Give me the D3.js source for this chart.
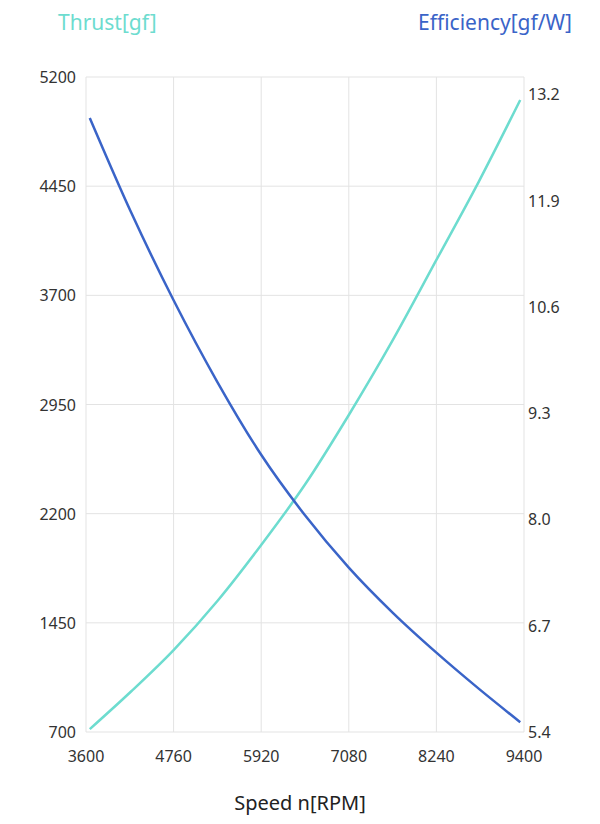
<!DOCTYPE html>
<html><head><meta charset="utf-8">
<script src="https://cdn.jsdelivr.net/npm/d3@7"></script>
<style>body{margin:0;background:#fff}text{font-family:"Noto Sans",sans-serif}</style>
</head><body><svg id="c" width="600" height="824"></svg>
<script>
const speed = [3650, 4200, 4760, 5340, 5920, 6500, 7080, 7660, 8240, 8800, 9350];
const thrust = [720, 980, 1263, 1600, 1985, 2400, 2878, 3390, 3943, 4480, 5042];
const efficiency = [12.91, 11.75, 10.68, 9.68, 8.79, 8.05, 7.41, 6.86, 6.37, 5.93, 5.52];
const xTicks = [3600, 4760, 5920, 7080, 8240, 9400];
const leftTicks = [700, 1450, 2200, 2950, 3700, 4450, 5200];
const rightTicks = [5.4, 6.7, 8.0, 9.3, 10.6, 11.9, 13.2];

const svg = d3.select('#c');
const m = {t:77, r:76, b:92, l:86};
const w = 600 - m.l - m.r, h = 824 - m.t - m.b;
const g = svg.append('g').attr('transform',`translate(${m.l},${m.t})`);

const x = d3.scaleLinear().domain([3600,9400]).range([0,w]);
const yL = d3.scaleLinear().domain([700,5200]).range([h,0]);
const yR = d3.scaleLinear().domain([5.4,5.4+1.3*655/106.3]).range([h,0]);

g.selectAll('.gx').data(xTicks).enter().append('line')
	.attr('x1',d=>x(d)).attr('x2',d=>x(d)).attr('y1',0).attr('y2',h)
	.style('stroke','#e3e3e3');
g.selectAll('.gy').data(leftTicks).enter().append('line')
	.attr('x1',0).attr('x2',w).attr('y1',d=>yL(d)).attr('y2',d=>yL(d))
	.style('stroke','#e3e3e3');

g.selectAll('.tx').data(xTicks).enter().append('text')
	.attr('x',d=>x(d)).attr('y',h+30).attr('text-anchor','middle')
	.attr('fill','#333').style('font-size','16px').text(d=>d);
g.selectAll('.tl').data(leftTicks).enter().append('text')
	.attr('x',-10).attr('y',d=>yL(d)+6).attr('text-anchor','end')
	.attr('fill','#333').style('font-size','16px').text(d=>d);
g.selectAll('.tr').data(rightTicks).enter().append('text')
	.attr('x',w+4).attr('y',d=>yR(d)+6).attr('text-anchor','start')
	.attr('fill','#333').style('font-size','16px').text(d=>d.toFixed(1));

const lineT = d3.line().x((d,i)=>x(speed[i])).y(d=>yL(d)).curve(d3.curveMonotoneX);
const lineE = d3.line().x((d,i)=>x(speed[i])).y(d=>yR(d)).curve(d3.curveMonotoneX);
g.append('path').attr('d',lineT(thrust)).style('fill','none').style('stroke','#6ddccf').style('stroke-width','2.5px');
g.append('path').attr('d',lineE(efficiency)).style('fill','none').style('stroke','#3a64c8').style('stroke-width','2.5px');

svg.append('text').attr('x',58).attr('y',30).attr('fill','#6ddccf').style('font-size','21px').text('Thrust[gf]');
svg.append('text').attr('x',572).attr('y',30).attr('text-anchor','end').attr('fill','#3a64c8').style('font-size','21px').text('Efficiency[gf/W]');
svg.append('text').attr('x',300).attr('y',810).attr('text-anchor','middle').attr('fill','#222').style('font-size','20px').text('Speed n[RPM]');
</script></body></html>
